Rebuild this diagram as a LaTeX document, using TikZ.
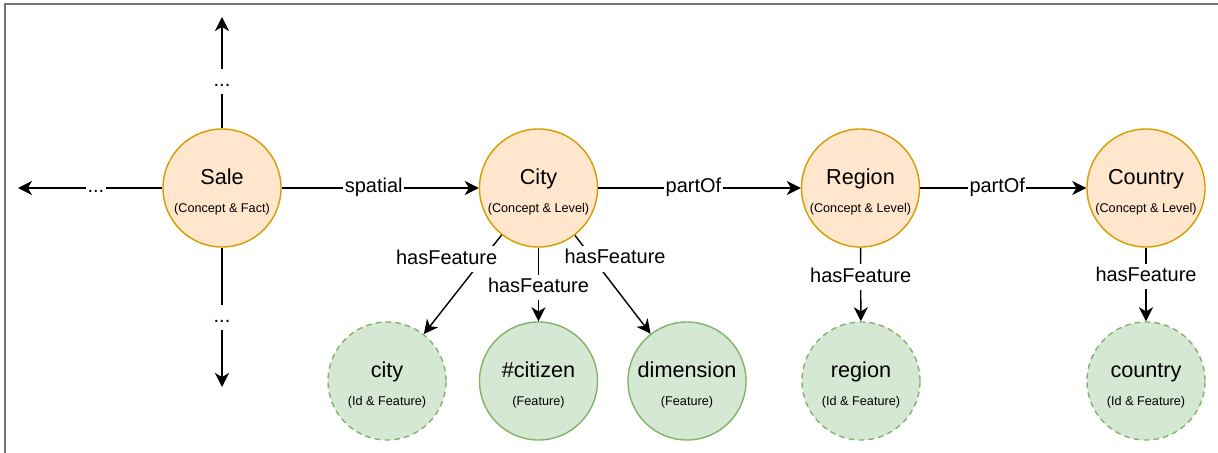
\documentclass[tikz,border=0pt]{standalone}
\usepackage{fontspec}
\setmainfont{Liberation Sans}
\usepackage{xcolor}
\definecolor{conceptfill}{HTML}{FFE6CC}
\definecolor{conceptdraw}{HTML}{D79B00}
\definecolor{featfill}{HTML}{D5E8D4}
\definecolor{featdraw}{HTML}{82B366}
\usepackage{tikz}
\usetikzlibrary{arrows.meta}

% name on the first line, kind of element below it
\newcommand{\twoline}[2]{\rule{0pt}{17pt}#1\\{\fontsize{9}{20}\selectfont #2}}

\begin{document}
\begin{tikzpicture}[x=0.025cm,y=-0.025cm,>={Stealth[length=10pt,width=10pt,inset=3pt]},
    circ/.style={circle,minimum size=2.95cm,inner sep=0pt,line width=1pt,align=center,font=\fontsize{15.4}{20}\selectfont},
    concept/.style={circ,draw=conceptdraw,fill=conceptfill},
    feat/.style={circ,draw=featdraw,fill=featfill},
    idfeat/.style={feat,dash pattern=on 4pt off 3pt},
    rel/.style={->,line width=1pt},
    lbl/.style={fill=white,inner xsep=1pt,inner ysep=2.5pt,text height=10pt,text depth=3pt,font=\fontsize{14.2}{17}\selectfont}]
    \useasboundingbox (0,0) rectangle (1218,453);
    \draw[black!55,line width=1pt] (5,453) -- (5,4) -- (1218,4);
    % levels
    \node[concept] (sale)    at (222,188)   {\twoline{Sale}{(Concept \& Fact)}};
    \node[concept] (City)    at (538.5,188) {\twoline{City}{(Concept \& Level)}};
    \node[concept] (Region)  at (860.5,188) {\twoline{Region}{(Concept \& Level)}};
    \node[concept] (Country) at (1146,188)  {\twoline{Country}{(Concept \& Level)}};
    % features
    \node[idfeat] (city)      at (387,381)   {\twoline{city}{(Id \& Feature)}};
    \node[feat]   (citizen)   at (538.5,381) {\twoline{\#citizen}{(Feature)}};
    \node[feat]   (dimension) at (687,381)   {\twoline{dimension}{(Feature)}};
    \node[idfeat] (region)    at (861,381)   {\twoline{region}{(Id \& Feature)}};
    \node[idfeat] (country)   at (1146,381)  {\twoline{country}{(Id \& Feature)}};
    % open ends of the fact
    \coordinate (up) at (222,17);
    \coordinate (down) at (222,387);
    \coordinate (left) at (18,188);
    \draw[rel] (sale) -- (up) node[lbl,pos=0.42]{...};
    \draw[rel] (sale) -- (down) node[lbl,pos=0.5]{...};
    \draw[rel] (sale) -- (left) node[lbl,pos=0.46]{...};
    \draw[rel] (sale) -- (City) node[lbl,pos=0.467]{spatial};
    \draw[rel] (City) -- (Region) node[lbl,pos=0.47]{partOf};
    \draw[rel] (Region) -- (Country) node[lbl,pos=0.464]{partOf};
    \draw[rel] (City) -- (city) node[lbl,pos=0.244,xshift=-0.9cm]{hasFeature};
    \draw[rel] (City) -- (citizen) node[lbl,pos=0.54]{hasFeature};
    \draw[rel] (City) -- (dimension) node[lbl,pos=0.24,xshift=0.55cm]{hasFeature};
    \draw[rel] (Region) -- (region) node[lbl,pos=0.4]{hasFeature};
    \draw[rel] (Country) -- (country) node[lbl,pos=0.39]{hasFeature};
\end{tikzpicture}
\end{document}
